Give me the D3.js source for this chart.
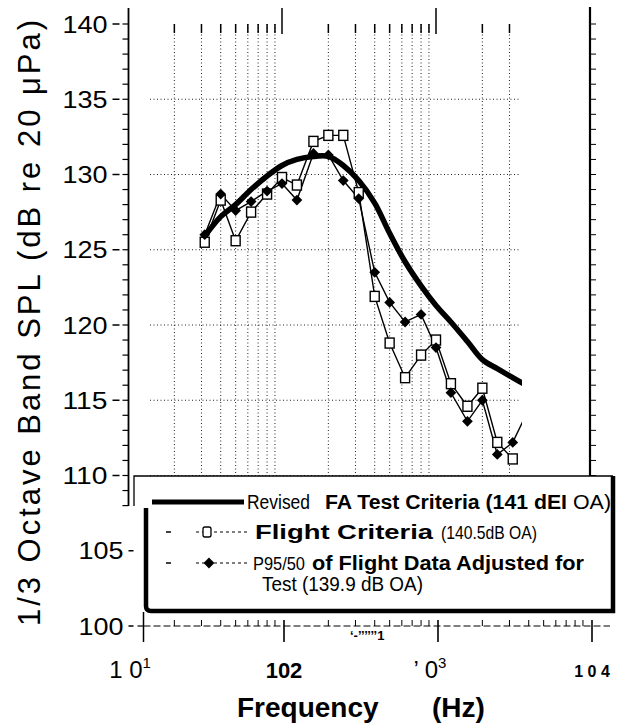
<!DOCTYPE html>
<html>
<head>
<meta charset="utf-8">
<script src="https://cdn.jsdelivr.net/npm/d3@7"></script>
<style>
  body { margin: 0; background: #fff; }
  svg { display: block; }
</style>
</head>
<body>
<svg id="chart" width="624" height="723"></svg>
<script>
// 1/3 octave band centre frequencies (Hz)
var bands = [31.5, 40, 50, 63, 80, 100, 125, 160, 200, 250, 315, 400, 500, 630, 800, 1000, 1250, 1600, 2000, 2500, 3150, 4000];
// Revised FA test criteria (thick curve)
var revisedFA = [125.9, 127.2, 128.0, 129.0, 129.9, 130.6, 131.0, 131.2, 131.2, 130.6, 129.6, 128.1, 126.1, 124.2, 122.6, 121.3, 120.2, 118.9, 117.7, 117.1, 116.5, 115.9];
// Flight criteria (open squares)
var flightCriteria = [125.5, 128.3, 125.6, 127.5, 128.7, 129.8, 129.3, 132.2, 132.6, 132.6, 128.8, 121.9, 118.8, 116.5, 118.0, 119.0, 116.1, 114.6, 115.8, 112.2, 111.1, null];
// P95/50 of flight data adjusted for test (filled diamonds)
var p95Adjusted = [126.0, 128.7, 127.6, 128.2, 128.9, 129.4, 128.3, 131.4, 131.3, 129.6, 128.4, 123.5, 121.5, 120.2, 120.7, 118.5, 115.5, 113.6, 115.0, 111.4, 112.2, 114.4];

var gridFreqs = [20, 30, 40, 50, 60, 70, 80, 90, 200, 300, 400, 500, 600, 700, 800, 900, 2000, 3000];
var gridLevels = [110, 115, 120, 125, 130, 135];
var yTickLabels = ["140", "135", "130", "125", "120", "115", "110", "105", "100"];
var xTickValues = [10, 100, 1000, 10000];
var xTickLabels = ["1 0", "102", "\u2019 0", "1 0 4"];
var xTickSups = ["1", "", "3", ""];

var font = "'Liberation Sans', Arial, Helvetica, sans-serif";
var svg = d3.select("#chart");

var x = d3.scaleLog().domain([10, 10000]).range([128, 590]);
var y = d3.scaleLinear().domain([100, 140]).range([626, 24]);

// clip like the scan: data and curves stop a bit short of the right edge
svg.append("defs").append("clipPath").attr("id", "plotclip")
  .append("rect").attr("x", 128).attr("y", 0).attr("width", 394).attr("height", 476);

// ---- grid ----
var grid = svg.append("g").attr("stroke", "#222").attr("stroke-width", 1)
  .attr("stroke-dasharray", "1,2.5");
grid.selectAll(".vg").data(gridFreqs).join("line")
  .attr("x1", d => x(d)).attr("x2", d => x(d))
  .attr("y1", y(140)).attr("y2", y(110));
grid.selectAll(".hg").data(gridLevels).join("line")
  .attr("x1", 150).attr("x2", 520)
  .attr("y1", d => y(d)).attr("y2", d => y(d));

// top ticks
var topTicks = svg.append("g").attr("stroke", "#000");
topTicks.selectAll("line.mn").data(gridFreqs).join("line")
  .attr("x1", d => x(d)).attr("x2", d => x(d))
  .attr("y1", y(140)).attr("y2", y(140) + 9).attr("stroke-width", 1.5);
topTicks.selectAll("line.mj").data([100, 1000]).join("line")
  .attr("x1", d => x(d)).attr("x2", d => x(d))
  .attr("y1", 8).attr("y2", 34).attr("stroke-width", 1.5);

// ---- left axis (upper part) ----
var x0 = x(10) + 0.5;
var dbUpper = d3.range(108, 141);
var leftAx = svg.append("g").attr("stroke", "#000");
leftAx.append("line").attr("x1", x0).attr("x2", x0).attr("y1", 8).attr("y2", 506).attr("stroke-width", 1.8);
leftAx.selectAll("line.mn").data(dbUpper).join("line")
  .attr("x1", x0 - 6).attr("x2", x0)
  .attr("y1", d => y(d)).attr("y2", d => y(d)).attr("stroke-width", 1.2);
leftAx.selectAll("line.mj").data(dbUpper.filter(d => d % 5 === 0)).join("line")
  .attr("x1", x0 - 16).attr("x2", x0 - 9)
  .attr("y1", d => y(d)).attr("y2", d => y(d)).attr("stroke-width", 1.5);

// lower part of the left axis is shifted in the original scan
var x1 = 143.5;
var dbLower = d3.range(100, 108);
var leftLow = svg.append("g").attr("stroke", "#000");
leftLow.append("line").attr("x1", x1).attr("x2", x1).attr("y1", 506).attr("y2", 642).attr("stroke-width", 1.5);
leftLow.selectAll("line.mn").data(dbLower).join("line")
  .attr("x1", x1 - 6).attr("x2", x1)
  .attr("y1", d => y(d)).attr("y2", d => y(d)).attr("stroke-width", 1.2);
leftLow.selectAll("line.mj").data([100, 105]).join("line")
  .attr("x1", x1 - 15).attr("x2", x1 - 10)
  .attr("y1", d => y(d)).attr("y2", d => y(d)).attr("stroke-width", 1.5);

svg.append("g").selectAll("text").data(yTickLabels).join("text")
  .attr("x", d => +d >= 110 ? x0 - 21 : x1 - 20)
  .attr("y", d => y(+d))
  .attr("dy", "0.36em")
  .attr("text-anchor", "end")
  .attr("font-family", font).attr("font-size", 24)
  .attr("textLength", 45).attr("lengthAdjust", "spacingAndGlyphs")
  .text(d => d);

// ---- right axis ----
var xr = x(10000);
var rightAx = svg.append("g").attr("stroke", "#000");
rightAx.append("line").attr("x1", xr).attr("x2", xr).attr("y1", 7).attr("y2", 476).attr("stroke-width", 2.2);
rightAx.selectAll("line.t").data(d3.range(110, 141)).join("line")
  .attr("x1", xr).attr("x2", xr + 6)
  .attr("y1", d => y(d)).attr("y2", d => y(d)).attr("stroke-width", 1);

// ---- bottom axis ----
var bottomAx = svg.append("g").attr("stroke", "#000");
bottomAx.append("line").attr("x1", x1).attr("x2", 610).attr("y1", y(100)).attr("y2", y(100))
  .attr("stroke-width", 1).attr("stroke-dasharray", "7,3");
var minorX = [];
[10, 100, 1000].forEach(function (dec) {
  for (var k = 2; k <= 9; k++) minorX.push(dec * k);
});
bottomAx.selectAll("line.mn").data(minorX).join("line")
  .attr("x1", d => x(d)).attr("x2", d => x(d))
  .attr("y1", y(100) - 6).attr("y2", y(100)).attr("stroke-width", 1);
bottomAx.selectAll("line.mj").data(xTickValues.slice(1)).join("line")
  .attr("x1", d => x(d) + 2).attr("x2", d => x(d) + 2)
  .attr("y1", y(100) - 6).attr("y2", 642).attr("stroke-width", 1.6);

var xl = svg.append("g").attr("font-family", font).attr("text-anchor", "middle");
xTickValues.forEach(function (v, i) {
  var t = xl.append("text")
    .attr("x", x(v) + (i === 0 ? 2 : i === 2 ? -6 : 2))
    .attr("y", i === 3 ? 677 : 678)
    .attr("font-size", i === 3 ? 16 : i === 1 ? 22 : 24)
    .attr("font-weight", i % 2 === 1 ? "bold" : "normal");
  t.append("tspan").text(xTickLabels[i]);
  if (xTickSups[i]) t.append("tspan").attr("dy", -10).attr("font-size", 15).text(xTickSups[i]);
});
svg.append("text").attr("x", 350).attr("y", 640)
  .attr("font-family", font).attr("font-size", 13).attr("font-weight", "bold")
  .text("\u2018-\u2019\u2019\u2019\u2019\u2019\u20191");

// ---- axis titles ----
svg.append("text")
  .attr("transform", "translate(40,323) rotate(-90)")
  .attr("text-anchor", "middle")
  .attr("font-family", font).attr("font-size", 31)
  .attr("textLength", 606).attr("lengthAdjust", "spacing")
  .text("1/3 Octave Band SPL (dB re 20 \u03bcPa)");

var xt = svg.append("text").attr("y", 717)
  .attr("font-family", font).attr("font-size", 28).attr("font-weight", "bold");
xt.append("tspan").attr("x", 237).text("Frequency");
xt.append("tspan").attr("x", 432).text("(Hz)");

// ---- series ----
var plot = svg.append("g").attr("clip-path", "url(#plotclip)");
var rows = bands.map(function (f, i) {
  return { f: f, fa: revisedFA[i], fc: flightCriteria[i], p95: p95Adjusted[i] };
});

plot.append("path").datum(rows)
  .attr("fill", "none").attr("stroke", "#000").attr("stroke-width", 5.5)
  .attr("stroke-linejoin", "round").attr("stroke-linecap", "round")
  .attr("d", d3.line().curve(d3.curveCatmullRom).x(d => x(d.f)).y(d => y(d.fa)));

plot.append("path").datum(rows)
  .attr("fill", "none").attr("stroke", "#000").attr("stroke-width", 1.4)
  .attr("d", d3.line().defined(d => d.fc != null).x(d => x(d.f)).y(d => y(d.fc)));

plot.append("path").datum(rows)
  .attr("fill", "none").attr("stroke", "#000").attr("stroke-width", 1.4)
  .attr("d", d3.line().x(d => x(d.f)).y(d => y(d.p95)));

plot.selectAll("rect.sq").data(rows.filter(d => d.fc != null)).join("rect")
  .attr("class", "sq")
  .attr("x", d => x(d.f) - 4.5).attr("y", d => y(d.fc) - 5)
  .attr("width", 9).attr("height", 10)
  .attr("fill", "#fff").attr("stroke", "#000").attr("stroke-width", 1.4);

var diamond = d3.symbol().type(d3.symbolSquare).size(58);
plot.selectAll("path.dm").data(rows).join("path")
  .attr("class", "dm")
  .attr("transform", d => "translate(" + x(d.f) + "," + y(d.p95) + ") rotate(45)")
  .attr("d", diamond).attr("fill", "#000");

// ---- legend ----
var lg = svg.append("g");
lg.append("rect").attr("x", 134).attr("y", 476).attr("width", 479).attr("height", 136).attr("fill", "#fff");
lg.append("path").attr("d", "M134,506V476H613").attr("fill", "none").attr("stroke", "#000").attr("stroke-width", 1.3);
lg.append("path").attr("d", "M146,508V606Q146,611 151,611H613V476")
  .attr("fill", "none").attr("stroke", "#000").attr("stroke-width", 4.5);

lg.append("line").attr("x1", 152).attr("x2", 244).attr("y1", 502).attr("y2", 502)
  .attr("stroke", "#000").attr("stroke-width", 5);

[532, 563].forEach(function (ly) {
  lg.append("line").attr("x1", 166).attr("x2", 171).attr("y1", ly).attr("y2", ly).attr("stroke", "#000").attr("stroke-width", 1.5);
  lg.append("line").attr("x1", 196).attr("x2", 250).attr("y1", ly).attr("y2", ly)
    .attr("stroke", "#000").attr("stroke-width", 1).attr("stroke-dasharray", "3,3");
});
lg.append("rect").attr("x", 203).attr("y", 527).attr("width", 8).attr("height", 10)
  .attr("rx", 2).attr("fill", "#fff").attr("stroke", "#000").attr("stroke-width", 1.3);
lg.append("path").attr("transform", "translate(209,563) rotate(45)").attr("d", diamond).attr("fill", "#000");

var legendText = [
  { t: "Revised", x: 247, y: 509, w: 63, s: 20, b: false },
  { t: "FA Test Criteria (141 dEI", x: 325, y: 509, w: 242, s: 20, b: true },
  { t: "OA)", x: 573, y: 509, w: 38, s: 20, b: false },
  { t: "Flight Criteria", x: 255, y: 539, w: 178, s: 20, b: true },
  { t: "(140.5dB OA)", x: 441, y: 539, w: 96, s: 19, b: false },
  { t: "P95/50", x: 253, y: 570, w: 52, s: 19, b: false },
  { t: "of Flight Data Adjusted for", x: 312, y: 570, w: 272, s: 20, b: true },
  { t: "Test  (139.9 dB OA)", x: 262, y: 591, w: 161, s: 20, b: false }
];
lg.selectAll("text").data(legendText).join("text")
  .attr("x", d => d.x).attr("y", d => d.y)
  .attr("font-family", font).attr("font-size", d => d.s)
  .attr("font-weight", d => d.b ? "bold" : "normal")
  .attr("textLength", d => d.w).attr("lengthAdjust", "spacingAndGlyphs")
  .text(d => d.t);
</script>
</body>
</html>
